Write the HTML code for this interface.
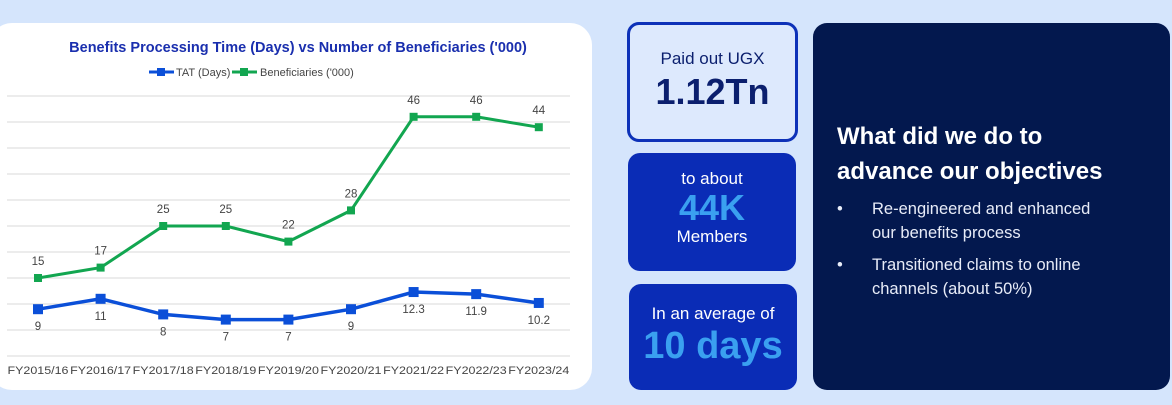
<!DOCTYPE html>
<html><head><meta charset="utf-8"><style>
body{margin:0;width:1172px;height:405px;background:#d5e5fc;font-family:"Liberation Sans",sans-serif;position:relative;overflow:hidden}
.card{position:absolute;left:-10px;top:23px;width:602px;height:367px;background:#fff;border-radius:22px}
.box{position:absolute;border-radius:12px;text-align:center;box-sizing:border-box}
.b1{left:627px;top:22px;width:171px;height:120px;border:3px solid #0d31b8;background:#dde9fd;color:#0b1f6e}
.b2{left:628px;top:153px;width:168px;height:118px;background:#0a2cb6;color:#fff}
.b3{left:629px;top:284px;width:168px;height:106px;background:#0a2cb6;color:#fff}
.dark{position:absolute;left:813px;top:23px;width:357px;height:367px;background:#03184e;border-radius:14px;color:#fff}
</style></head><body>
<div class="card"></div>
<svg width="600" height="405" style="position:absolute;left:0;top:0">
<text x="298" y="52" text-anchor="middle" font-size="14.5" font-weight="bold" fill="#1a2fae">Benefits Processing Time (Days) vs Number of Beneficiaries ('000)</text>
<g font-size="11" fill="#444">
<line x1="149" y1="72" x2="174" y2="72" stroke="#0b4fd8" stroke-width="3"/><rect x="157" y="68" width="8" height="8" fill="#0b4fd8"/>
<text x="176" y="76">TAT (Days)</text>
<line x1="232" y1="72" x2="257" y2="72" stroke="#12a650" stroke-width="3"/><rect x="240" y="68" width="8" height="8" fill="#12a650"/>
<text x="260" y="76">Beneficiaries ('000)</text>
</g>
<g id="grid"></g><g id="series"></g><g id="xl"></g>
</svg>
<div class="box b1"><div style="font-size:17px;margin-top:24px">Paid out UGX</div><div style="font-size:36px;font-weight:bold;margin-top:2px">1.12Tn</div></div>
<div class="box b2"><div style="font-size:17px;margin-top:16px">to about</div><div style="font-size:36px;font-weight:bold;color:#3aa0f0;line-height:38px">44K</div><div style="font-size:17px">Members</div></div>
<div class="box b3"><div style="font-size:17px;margin-top:20px">In an average of</div><div style="font-size:38px;font-weight:bold;color:#3aa0f0;line-height:44px">10 days</div></div>
<div class="dark">
<div style="position:absolute;left:24px;top:96px;font-size:24px;font-weight:bold;line-height:35px">What did we do to<br>advance our objectives</div>
<div style="position:absolute;left:24px;top:174px;font-size:16.5px;line-height:24px;color:#e8ecf8">
<div style="display:flex;margin-bottom:8px"><span style="width:35px">•</span><span>Re-engineered and enhanced<br>our benefits process</span></div>
<div style="display:flex"><span style="width:35px">•</span><span>Transitioned claims to online<br>channels (about 50%)</span></div></div></div>
<script>
const categories=["FY2015/16","FY2016/17","FY2017/18","FY2018/19","FY2019/20","FY2020/21","FY2021/22","FY2022/23","FY2023/24"];
const tatValues=[9,11,8,7,7,9,12.3,11.9,10.2];
const tatLabels=["9","11","8","7","7","9","12.3","11.9","10.2"];
const benValues=[15,17,25,25,22,28,46,46,44];
const benLabels=["15","17","25","25","22","28","46","46","44"];
const yTicks=[0,5,10,15,20,25,30,35,40,45,50];
const NS="http://www.w3.org/2000/svg";
const x=i=>38+i*62.6, y=v=>356-v*5.2;
function mk(t,a,p){const e=document.createElementNS(NS,t);for(const k in a)e.setAttribute(k,a[k]);p.appendChild(e);return e;}
const grid=document.getElementById('grid');
yTicks.forEach(t=>{const l=mk('line',{x1:7,x2:570,y1:y(t),y2:y(t),stroke:'#d9d9d9','stroke-width':1},grid);

});
const sg=document.getElementById('series');
function series(vals,labs,col,w,ms,name,below){
 const pl=mk('polyline',{points:vals.map((v,i)=>x(i)+','+y(v)).join(' '),fill:'none',stroke:col,'stroke-width':w},sg);
 
 
 vals.forEach((v,i)=>{const r=mk('rect',{x:x(i)-ms/2,y:y(v)-ms/2,width:ms,height:ms,fill:col},sg);
 
 
 const t=mk('text',{x:x(i),y:below?y(v)+21:y(v)-13,'text-anchor':'middle','font-size':11.5,fill:'#444'},sg);t.textContent=labs[i];
 
 });
}
series(benValues,benLabels,'#12a650',3,8,'beneficiaries',false);
series(tatValues,tatLabels,'#0b4fd8',3.5,10,'tat',true);
const xl=document.getElementById('xl');
categories.forEach((c,i)=>{const t=mk('text',{x:x(i),y:374,'text-anchor':'middle','font-size':11,fill:'#444',textLength:61,lengthAdjust:'spacingAndGlyphs'},xl);t.textContent=c;

});
</script>
</body></html>
